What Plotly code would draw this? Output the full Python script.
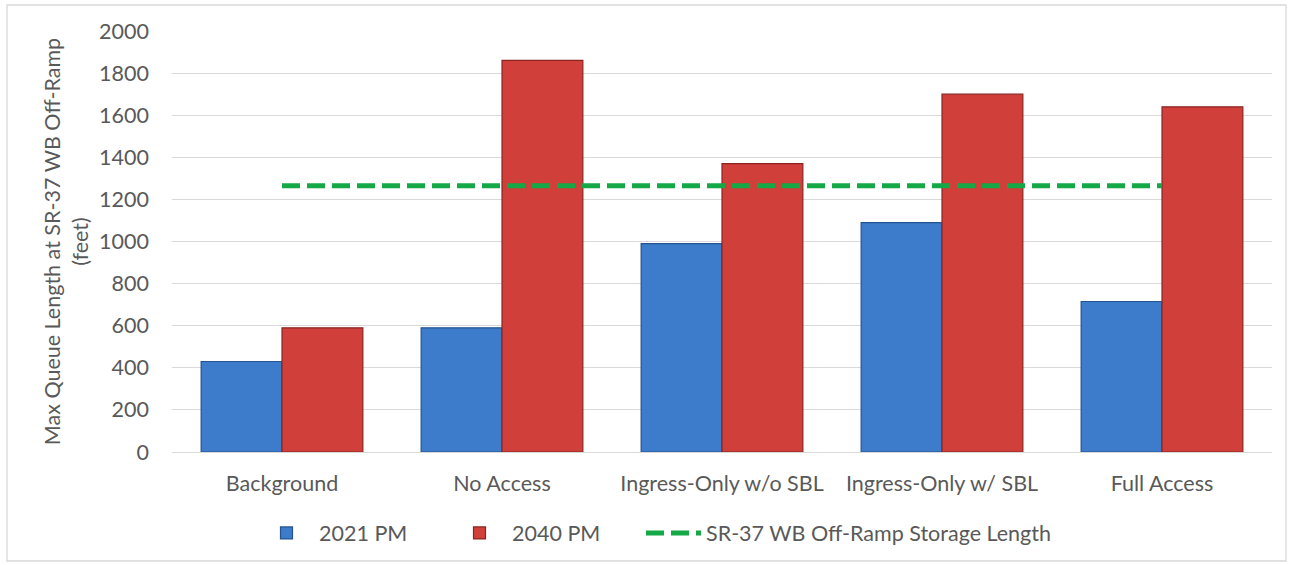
import plotly.graph_objects as go

# Scenario categories along the x-axis
scenarios = ["Background", "No Access", "Ingress-Only w/o SBL", "Ingress-Only w/ SBL", "Full Access"]

# Max queue length (feet) per scenario
queue_2021_pm = [430, 590, 990, 1090, 715]
queue_2040_pm = [590, 1860, 1370, 1700, 1640]

# Available storage length on the off-ramp (feet), constant across scenarios
storage_length = [1265, 1265, 1265, 1265, 1265]

y_ticks = [0, 200, 400, 600, 800, 1000, 1200, 1400, 1600, 1800, 2000]

FONT = "Lato, Carlito, Calibri, sans-serif"
GREY = "#595959"
FS = 21.5

# plot area in pixels: x 172..1272, y 31..452
PW, PH = 1100, 421

fig = go.Figure()

fig.add_trace(go.Bar(
    name="2021 PM",
    x=scenarios,
    y=queue_2021_pm,
    marker=dict(color="#3d7ccb", line=dict(color="#24538f", width=1.2)),
    legend="legend",
))

fig.add_trace(go.Bar(
    name="2040 PM",
    x=scenarios,
    y=queue_2040_pm,
    marker=dict(color="#d13f3b", line=dict(color="#8a2421", width=1.2)),
    legend="legend2",
))

fig.add_trace(go.Scatter(
    name="SR-37 WB Off-Ramp Storage Length",
    x=scenarios,
    y=storage_length,
    mode="lines",
    line=dict(color="#14a847", width=5, dash="18px,7px"),
    legend="legend3",
))


def legend_at(px):
    """One-entry legend placed below the plot, left edge at px (container pixels)."""
    return dict(
        orientation="h",
        xref="container",
        yref="container",
        x=px / 1293,
        xanchor="left",
        y=(565 - 533) / 565,
        yanchor="middle",
        bgcolor="rgba(0,0,0,0)",
        font=dict(family=FONT, size=FS, color=GREY),
        itemwidth=55,
    )


fig.update_layout(
    width=1293,
    height=565,
    margin=dict(l=172, r=21, t=31, b=113, autoexpand=False),
    paper_bgcolor="white",
    plot_bgcolor="white",
    barmode="group",
    bargap=0.265,
    bargroupgap=0,
    font=dict(family=FONT, size=FS, color=GREY),
    showlegend=True,
    legend=legend_at(254),
    legend2=legend_at(447),
    legend3=legend_at(641),
    xaxis=dict(
        showgrid=False,
        showline=False,
        ticks="",
        automargin=False,
        tickfont=dict(family=FONT, size=FS, color=GREY),
        ticklabelstandoff=16,
    ),
    yaxis=dict(
        range=[0, 2000],
        tickvals=y_ticks,
        automargin=False,
        showgrid=True,
        gridcolor="#d9d9d9",
        gridwidth=1.3,
        zeroline=True,
        zerolinecolor="#d9d9d9",
        zerolinewidth=1.3,
        showline=False,
        ticks="",
        tickfont=dict(family=FONT, size=FS, color=GREY),
        ticklabelstandoff=22,
        title=dict(
            text="Max Queue Length at SR-37 WB Off-Ramp<br>(feet)",
            font=dict(family=FONT, size=FS, color=GREY),
            standoff=4,
        ),
    ),
    shapes=[
        # outer chart frame
        dict(
            type="rect",
            xref="paper", yref="paper",
            x0=(7 - 172) / PW, x1=(1286 - 172) / PW,
            y0=-(561 - 452) / PH, y1=1 + (31 - 5) / PH,
            line=dict(color="#d9d9d9", width=1.3),
            fillcolor="rgba(0,0,0,0)",
            layer="below",
        )
    ],
)

fig.write_html("out.html")
